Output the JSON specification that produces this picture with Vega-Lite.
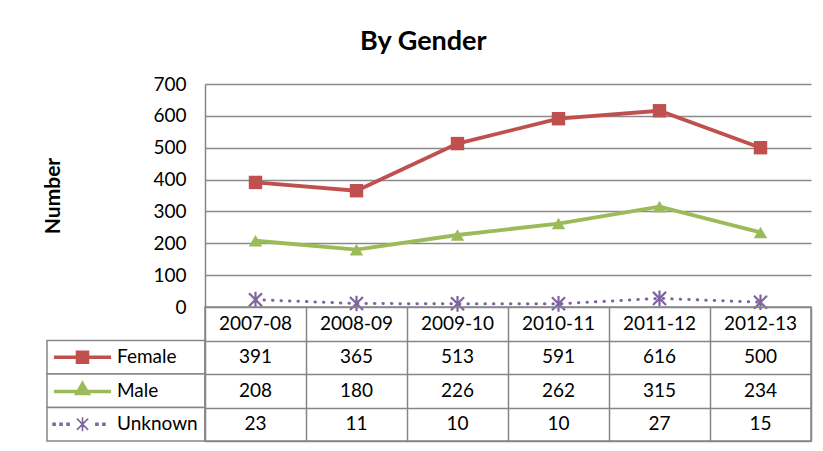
{
  "$schema": "https://vega.github.io/schema/vega-lite/v6.json",
  "padding": {"left": 42, "top": 28, "right": 13, "bottom": 6},
  "background": "white",
  "title": {"text": "By Gender", "font": "Lato", "fontSize": 27, "fontWeight": "bold", "color": "#000", "anchor": "middle", "frame": "bounds", "offset": 19, "dx": -4},
  "datasets": {
    "d": [
      {"year": "2007-08", "series": "Female", "value": 391},
      {"year": "2008-09", "series": "Female", "value": 365},
      {"year": "2009-10", "series": "Female", "value": 513},
      {"year": "2010-11", "series": "Female", "value": 591},
      {"year": "2011-12", "series": "Female", "value": 616},
      {"year": "2012-13", "series": "Female", "value": 500},
      {"year": "2007-08", "series": "Male", "value": 208},
      {"year": "2008-09", "series": "Male", "value": 180},
      {"year": "2009-10", "series": "Male", "value": 226},
      {"year": "2010-11", "series": "Male", "value": 262},
      {"year": "2011-12", "series": "Male", "value": 315},
      {"year": "2012-13", "series": "Male", "value": 234},
      {"year": "2007-08", "series": "Unknown", "value": 23},
      {"year": "2008-09", "series": "Unknown", "value": 11},
      {"year": "2009-10", "series": "Unknown", "value": 10},
      {"year": "2010-11", "series": "Unknown", "value": 10},
      {"year": "2011-12", "series": "Unknown", "value": 27},
      {"year": "2012-13", "series": "Unknown", "value": 15}
    ]
  },
  "data": {"name": "d"},
  "spacing": 0,
  "bounds": "flush",
  "columns": 2,
  "resolve": {"scale": {"x": "independent", "y": "independent", "color": "independent", "fill": "independent", "stroke": "independent", "shape": "independent"}},
  "concat": [
    {
      "width": 158,
      "height": 223,
      "transform": [{"filter": "datum.series === 'Female'"}],
      "mark": {"type": "point", "opacity": 0},
      "encoding": {}
    },
    {
      "width": 606,
      "height": 223,
      "encoding": {
        "x": {"field": "year", "type": "nominal", "sort": null, "scale": {"type": "point", "padding": 0.5}, "axis": null},
        "y": {"field": "value", "type": "quantitative", "scale": {"domain": [0, 700]},
          "axis": {"values": [0, 100, 200, 300, 400, 500, 600, 700], "title": "Number", "titleFont": "Lato", "titleFontSize": 21, "titleFontWeight": "bold", "titleColor": "#000", "titlePadding": 89,
            "labelFont": "Lato", "labelFontSize": 19, "labelColor": "#000", "labelPadding": 19, "ticks": false,
            "domainColor": "#868686", "domainWidth": 1.5, "grid": true, "gridColor": "#8a8a8a", "gridWidth": 1.5}},
        "color": {"field": "series", "type": "nominal", "scale": {"domain": ["Female", "Male", "Unknown"], "range": ["#C0504D", "#9BBB59", "#8064A2"]}, "legend": null}
      },
      "layer": [
        {"transform": [{"filter": "datum.series !== 'Unknown'"}], "mark": {"type": "line", "strokeWidth": 3.8}},
        {"transform": [{"filter": "datum.series === 'Unknown'"}], "mark": {"type": "line", "strokeWidth": 3, "strokeDash": [0.5, 8], "strokeCap": "round"}},
        {"transform": [{"filter": "datum.series !== 'Unknown'"}], "mark": {"type": "point", "filled": true, "size": 180, "opacity": 1},
          "encoding": {"shape": {"field": "series", "type": "nominal", "scale": {"domain": ["Female", "Male"], "range": ["square", "triangle-up"]}, "legend": null}}},
        {"transform": [{"filter": "datum.series === 'Unknown'"}], "mark": {"type": "point", "shape": "M-1,-1L1,1M-1,1L1,-1M0,-1.2V1.2", "filled": false, "size": 170, "strokeWidth": 2.2, "opacity": 1}}
      ]
    },
    {
      "width": 158,
      "height": 134,
      "transform": [{"filter": "datum.year === '2007-08'"}],
      "encoding": {
        "x": {"datum": "lbl", "type": "nominal", "scale": {"type": "band", "paddingInner": 0, "paddingOuter": 0}, "axis": null},
        "y": {"field": "series", "type": "nominal", "scale": {"domain": ["hdr", "Female", "Male", "Unknown"], "paddingInner": 0, "paddingOuter": 0}, "axis": null}
      },
      "layer": [
        {"mark": {"type": "rect", "fill": "white", "stroke": "#868686", "strokeWidth": 1.5}},
        {"mark": {"type": "text", "align": "left", "dx": -9, "font": "Lato", "fontSize": 19, "color": "#000"}, "encoding": {"text": {"field": "series", "type": "nominal"}}},
        {"transform": [{"filter": "datum.series !== 'Unknown'"}],
          "mark": {"type": "point", "filled": true, "size": 784, "strokeWidth": 3.5, "opacity": 1, "xOffset": -43.5},
          "encoding": {
            "shape": {"field": "series", "type": "nominal", "scale": {"domain": ["Female", "Male"], "range": ["M-2.04,0H2.04M-0.36,-0.36H0.36V0.36H-0.36Z", "M-2.04,0.05H2.04M0,-0.5L0.4,0.2H-0.4Z"]}, "legend": null},
            "fill": {"field": "series", "type": "nominal", "scale": {"domain": ["Female", "Male"], "range": ["#C0504D", "#9BBB59"]}, "legend": null},
            "stroke": {"field": "series", "type": "nominal", "scale": {"domain": ["Female", "Male"], "range": ["#C0504D", "#9BBB59"]}, "legend": null}
          }},
        {"transform": [{"filter": "datum.series === 'Unknown'"}],
          "mark": {"type": "point", "filled": true, "size": 784, "strokeWidth": 1.6, "opacity": 1, "xOffset": -43.5, "fill": "#8064A2", "stroke": "#8064A2",
            "shape": "M-2.1,-0.07h0.14v0.14h-0.14zM-1.6,-0.07h0.14v0.14h-0.14zM-1.1,-0.07h0.14v0.14h-0.14zM0.96,-0.07h0.14v0.14h-0.14zM1.46,-0.07h0.14v0.14h-0.14zM-0.4,-0.4L0.4,0.4M-0.4,0.4L0.4,-0.4M0,-0.5V0.5"}}
      ]
    },
    {
      "width": 606,
      "height": 134,
      "view": {"stroke": "#868686", "strokeWidth": 1.5},
      "encoding": {
        "x": {"field": "year", "type": "nominal", "sort": null, "scale": {"type": "band", "paddingInner": 0, "paddingOuter": 0},
          "axis": {"labels": false, "ticks": false, "domain": false, "grid": true, "gridColor": "#868686", "gridWidth": 1.5, "tickBand": "extent", "title": null}},
        "y": {"field": "series", "type": "nominal", "scale": {"domain": ["hdr", "Female", "Male", "Unknown"], "paddingInner": 0, "paddingOuter": 0},
          "axis": {"values": ["Female", "Male", "Unknown"], "labels": false, "domain": false, "ticks": false, "tickBand": "extent", "grid": true, "gridColor": "#868686", "gridWidth": 1.5, "title": null}}
      },
      "layer": [
        {"mark": {"type": "text", "font": "Lato", "fontSize": 19, "color": "#000"}, "encoding": {"text": {"field": "value", "type": "quantitative"}}},
        {"transform": [{"filter": "datum.series === 'Female'"}], "mark": {"type": "text", "font": "Lato", "fontSize": 19, "color": "#000"},
          "encoding": {"y": {"datum": "hdr", "type": "nominal"}, "text": {"field": "year", "type": "nominal"}}}
      ]
    }
  ],
  "config": {"view": {"stroke": null}, "font": "Lato"}
}
